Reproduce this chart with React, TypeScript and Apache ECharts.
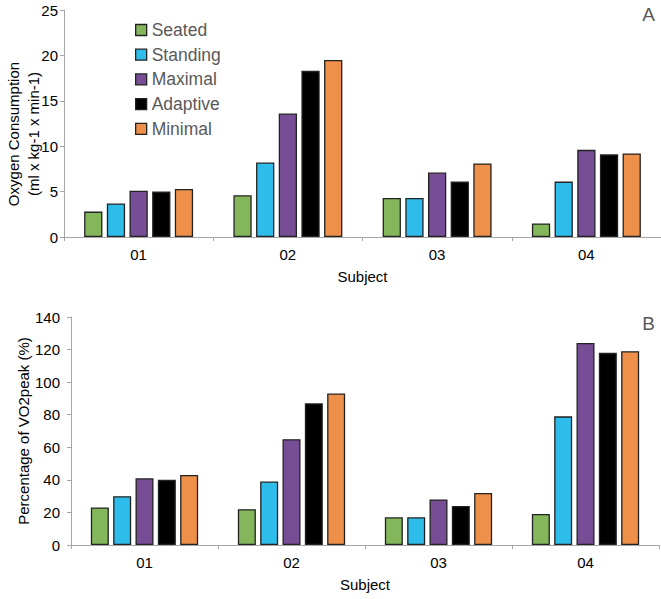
import React, { useEffect, useRef } from "react";
import * as echarts from "echarts";

const subjects = ["01", "02", "03", "04"];
const seriesNames = ["Seated", "Standing", "Maximal", "Adaptive", "Minimal"];
const colors = ["#84B75B", "#2EBCEB", "#774E96", "#000000", "#EF904A"];

// Panel A: Oxygen consumption (ml x kg-1 x min-1)
const oxySeated = [2.8, 4.6, 4.3, 1.5];
const oxyStanding = [3.7, 8.2, 4.3, 6.1];
const oxyMaximal = [5.1, 13.6, 7.1, 9.6];
const oxyAdaptive = [5.0, 18.3, 6.1, 9.1];
const oxyMinimal = [5.3, 19.5, 8.1, 9.2];

// Panel B: Percentage of VO2peak (%)
const pctSeated = [23, 22, 17, 19];
const pctStanding = [30, 39, 17, 79];
const pctMaximal = [41, 65, 28, 124];
const pctAdaptive = [40, 87, 24, 118];
const pctMinimal = [43, 93, 32, 119];

const oxyData = [oxySeated, oxyStanding, oxyMaximal, oxyAdaptive, oxyMinimal];
const pctData = [pctSeated, pctStanding, pctMaximal, pctAdaptive, pctMinimal];

const FONT = "'Liberation Sans', Arial, sans-serif";

export default function App() {
  const ref = useRef<HTMLDivElement>(null);
  useEffect(() => {
    if (!ref.current) return;
    const chart = echarts.init(ref.current, undefined, { renderer: "svg" });
    const axisLine = { show: true, lineStyle: { color: "#A6A6A6", width: 1 } };
    const xAxisCommon = (gridIndex: number) => ({
      type: "category" as const,
      gridIndex,
      data: subjects,
      boundaryGap: true,
      axisLine,
      axisTick: { show: true, length: 4, lineStyle: { color: "#A6A6A6" }, interval: 0 },
      axisLabel: { color: "#000", fontSize: 15, fontFamily: FONT, margin: 10 },
      name: "Subject",
      nameLocation: "middle" as const,
      nameGap: 32,
      nameTextStyle: { color: "#000", fontSize: 15, fontFamily: FONT },
      splitLine: { show: false },
    });
    const yAxisCommon = (gridIndex: number, max: number, interval: number, margin: number) => ({
      type: "value" as const,
      gridIndex,
      min: 0,
      max,
      interval,
      axisLine,
      axisTick: { show: true, length: 4, lineStyle: { color: "#A6A6A6" } },
      axisLabel: { color: "#000", fontSize: 15, fontFamily: FONT, margin },
      splitLine: { show: false },
    });
    const series: any[] = [];
    seriesNames.forEach((name, i) => {
      series.push({
        name,
        type: "bar",
        xAxisIndex: 0,
        yAxisIndex: 0,
        data: oxyData[i],
        barGap: "24%",
        barCategoryGap: "27%",
        itemStyle: { color: colors[i], borderColor: "#222", borderWidth: 1.3 },
      });
    });
    seriesNames.forEach((name, i) => {
      series.push({
        name,
        type: "bar",
        xAxisIndex: 1,
        yAxisIndex: 1,
        data: pctData[i],
        barGap: "24%",
        barCategoryGap: "27%",
        itemStyle: { color: colors[i], borderColor: "#222", borderWidth: 1.3 },
      });
    });
    chart.setOption({
      animation: false,
      backgroundColor: "#fff",
      grid: [
        { left: 64, top: 10, width: 598, height: 227 },
        { left: 71, top: 317, width: 588, height: 228 },
      ],
      xAxis: [xAxisCommon(0), xAxisCommon(1)],
      yAxis: [yAxisCommon(0, 25, 5, 6), yAxisCommon(1, 140, 20, 11)],
      legend: {
        data: seriesNames,
        orient: "vertical",
        left: 135,
        top: 21,
        padding: 0,
        itemWidth: 11,
        itemHeight: 11,
        itemGap: 6.7,
        icon: "rect",
        itemStyle: { borderColor: "#222", borderWidth: 1.3 },
        textStyle: { color: "#595959", fontSize: 17.5, fontFamily: FONT, lineHeight: 17 },
      },
      graphic: [
        {
          type: "text",
          x: 23,
          y: 134,
          rotation: Math.PI / 2,
          style: {
            text: "Oxygen Consumption\n(ml x kg-1 x min-1)",
            fontSize: 15,
            lineHeight: 20,
            fontFamily: FONT,
            fill: "#000",
            align: "center",
            verticalAlign: "middle",
          },
        },
        {
          type: "text",
          x: 23,
          y: 431,
          rotation: Math.PI / 2,
          style: {
            text: "Percentage of VO2peak (%)",
            fontSize: 15,
            fontFamily: FONT,
            fill: "#000",
            align: "center",
            verticalAlign: "middle",
          },
        },
        {
          type: "text",
          x: 648.5,
          y: 14,
          style: {
            text: "A",
            fontSize: 19,
            fontFamily: FONT,
            fill: "#595959",
            align: "center",
            verticalAlign: "middle",
          },
        },
        {
          type: "text",
          x: 648.5,
          y: 323,
          style: {
            text: "B",
            fontSize: 19,
            fontFamily: FONT,
            fill: "#595959",
            align: "center",
            verticalAlign: "middle",
          },
        },
      ],
      series,
    });
    return () => chart.dispose();
  }, []);
  return (
    <div
      ref={ref}
      style={{ position: "fixed", left: 0, top: 0, width: 661, height: 599 }}
    />
  );
}
